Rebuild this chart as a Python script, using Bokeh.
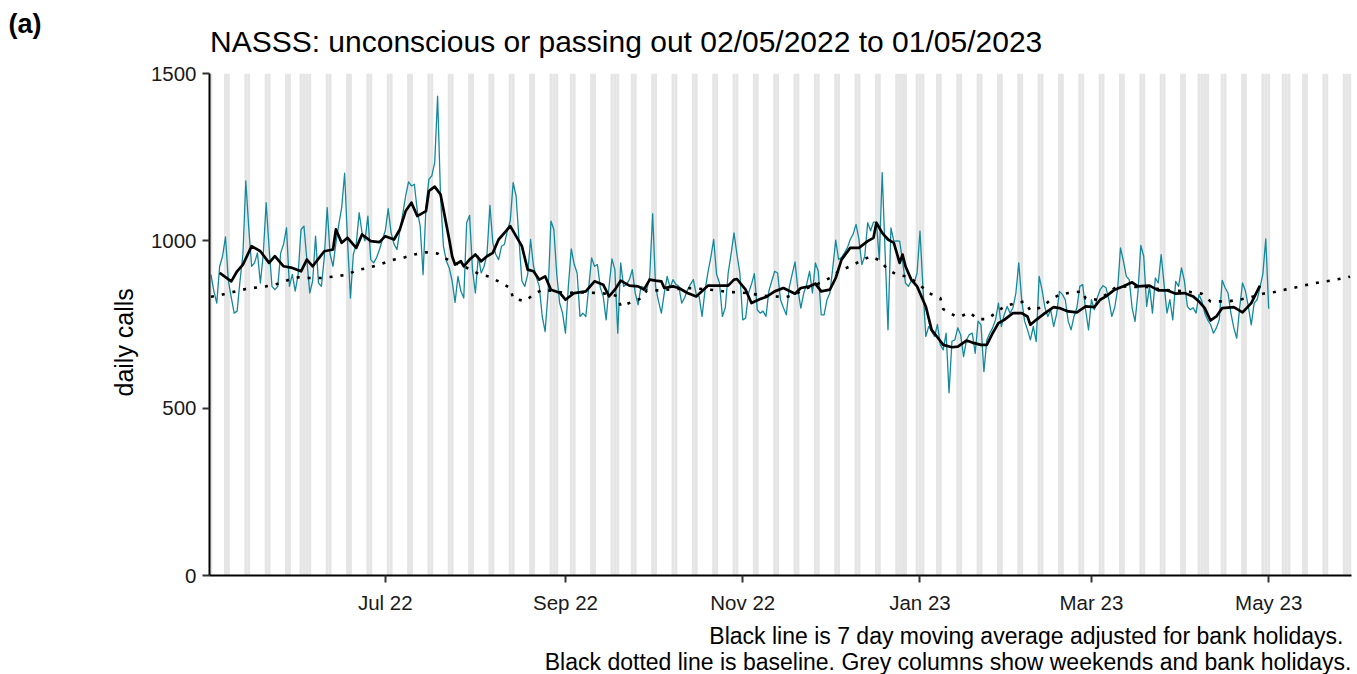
import math
import numpy as np
import pandas as pd
from bokeh.plotting import figure
from bokeh.layouts import column
from bokeh.models import Range1d, FixedTicker, Label, Title
from bokeh.embed import file_html
from bokeh.resources import INLINE

# ---------------- data ----------------
start_date = "2022-05-02"

daily_calls = [
    899, 850, 814, 924, 954, 1012, 880,
    830, 784, 790, 880, 960, 1179, 1040,
    924, 934, 964, 874, 960, 1114, 980,
    864, 854, 864, 964, 990, 1039, 864,
    900, 850, 900, 1034, 1044, 944, 844,
    880, 1014, 874, 864, 950, 1099, 960,
    924, 994, 1049, 1100, 1202, 1000, 829,
    960, 990, 1084, 1024, 1000, 1074, 944,
    934, 950, 974, 1004, 1030, 1096, 1024,
    990, 974, 1030, 1080, 1134, 1176, 1164,
    1169, 1090, 1044, 899, 1100, 1184, 1194,
    1234, 1432, 1134, 984, 940, 919, 880,
    816, 894, 850, 829, 1054, 1076, 914,
    844, 954, 904, 924, 960, 1106, 994,
    960, 944, 984, 990, 1030, 1060, 1174,
    1134, 1004, 880, 864, 900, 1004, 924,
    890, 864, 774, 729, 844, 1059, 1034,
    900, 814, 784, 724, 864, 976, 930,
    904, 774, 784, 774, 860, 949, 924,
    929, 860, 834, 764, 864, 946, 914,
    724, 934, 864, 870, 884, 914, 844,
    809, 864, 860, 854, 894, 1081, 864,
    820, 784, 844, 894, 860, 884, 870,
    864, 814, 830, 854, 870, 884, 840,
    834, 774, 850, 904, 950, 1004, 900,
    874, 774, 800, 904, 960, 1024, 960,
    904, 764, 769, 844, 870, 902, 794,
    784, 790, 774, 850, 880, 909, 904,
    824, 800, 779, 860, 900, 937, 854,
    799, 844, 870, 909, 844, 934, 909,
    779, 779, 824, 844, 920, 1002, 944,
    950, 964, 979, 1004, 1020, 1049, 1004,
    929, 954, 1054, 1030, 1056, 1056, 944,
    1204, 964, 734, 1039, 999, 1000, 999,
    940, 874, 864, 880, 874, 904, 1029,
    864, 714, 744, 730, 714, 750, 690,
    674, 724, 546, 700, 704, 740, 719,
    654, 704, 720, 724, 664, 760, 749,
    609, 704, 724, 740, 764, 814, 744,
    780, 804, 784, 800, 844, 934, 824,
    760, 734, 704, 744, 699, 894, 854,
    800, 774, 794, 744, 780, 849, 840,
    824, 760, 734, 774, 800, 864, 869,
    794, 734, 824, 794, 830, 854, 866,
    860, 824, 774, 800, 854, 979, 940,
    894, 884, 800, 759, 844, 986, 954,
    804, 864, 784, 889, 874, 959, 870,
    784, 824, 764, 879, 864, 919, 880,
    804, 794, 800, 784, 839, 820, 784,
    764, 750, 724, 740, 764, 882, 860,
    844, 784, 740, 709, 799, 874, 850,
    804, 749, 814, 824, 860, 901, 1006,
    797,
]

# 7 day moving average (day offset from start_date, value)
ma_day = [3, 7, 9, 11, 14, 17, 20, 22, 25, 28, 31, 33, 35, 39, 42, 43, 45, 47, 50, 52,
          55, 58, 60, 63, 65, 67, 69, 71, 74, 75, 77, 79, 80, 82, 83, 84, 86, 87, 89, 91,
          93, 95, 97, 99, 101, 103, 105, 107, 109, 111, 113, 115, 117, 120, 122, 125, 129,
          132, 135, 137, 139, 141, 144, 147, 149, 151, 153, 155, 156, 159, 161, 164, 167,
          171, 175, 178, 180, 181, 184, 186, 189, 191, 194, 197, 201, 203, 206, 208, 210,
          213, 215, 217, 220, 223, 226, 228, 229, 231, 233, 235, 237, 238, 239, 241, 243,
          246, 248, 250, 252, 255, 257, 260, 262, 265, 267, 269, 271, 273, 276, 279, 281,
          282, 284, 287, 290, 292, 295, 298, 301, 304, 306, 308, 311, 314, 317, 319, 323,
          326, 329, 332, 335, 338, 340, 342, 344, 346, 348, 352, 355, 358, 361]
ma_value = [904, 879, 909, 929, 984, 969, 934, 954, 924, 919, 909, 944, 924, 969, 974, 1034,
            994, 1009, 979, 1019, 999, 996, 1014, 1004, 1034, 1089, 1114, 1074, 1089, 1149,
            1162, 1139, 1094, 1004, 954, 929, 939, 924, 944, 959, 939, 954, 964, 1004, 1024,
            1044, 1014, 984, 914, 909, 884, 894, 854, 845, 824, 844, 849, 879, 869, 834, 854,
            881, 866, 864, 854, 884, 881, 879, 859, 864, 859, 844, 834, 866, 866, 866, 884,
            886, 854, 814, 826, 832, 849, 859, 842, 859, 864, 872, 849, 854, 889, 944, 979,
            979, 999, 1009, 1054, 1024, 1004, 994, 934, 959, 924, 884, 864, 804, 734, 712,
            689, 682, 684, 702, 696, 689, 689, 724, 754, 764, 784, 784, 774, 749, 764, 784,
            802, 799, 789, 786, 804, 802, 824, 834, 854, 864, 876, 864, 866, 852, 852, 842,
            844, 834, 819, 799, 762, 774, 799, 802, 786, 814, 866]

# baseline (day offset from start_date, value)
base_day = [0, 3, 7, 12, 16, 19, 23, 27, 30, 34, 38, 43, 47, 50, 54, 58, 62, 66, 70, 74,
            78, 81, 85, 89, 92, 96, 100, 103, 104, 108, 111, 114, 118, 122, 126, 130, 134,
            138, 140, 141, 145, 148, 150, 154, 158, 162, 166, 170, 174, 178, 182, 186, 190,
            194, 198, 201, 205, 209, 213, 216, 220, 224, 227, 230, 233, 236, 238, 240, 244,
            247, 251, 252, 256, 258, 261, 264, 267, 270, 273, 277, 280, 282, 286, 289, 292,
            295, 300, 301, 305, 308, 311, 315, 318, 322, 326, 330, 334, 338, 341, 344, 347,
            350, 355, 358, 362, 366, 370, 374, 378, 382, 386, 390, 392]
base_value = [833, 837, 846, 856, 861, 864, 872, 884, 891, 889, 889, 894, 899, 912, 919, 929,
              942, 949, 959, 966, 962, 946, 930, 916, 902, 892, 874, 859, 828, 820, 839, 854,
              850, 844, 846, 845, 844, 840, 834, 804, 818, 828, 852, 852, 855, 857, 859, 855,
              852, 847, 846, 842, 836, 834, 832, 840, 858, 872, 889, 909, 924, 942, 954, 942,
              914, 899, 896, 892, 868, 844, 829, 796, 776, 774, 786, 766, 766, 784, 804, 814,
              819, 792, 802, 824, 839, 844, 849, 828, 824, 839, 859, 864, 862, 862, 856, 852,
              850, 846, 842, 819, 819, 819, 826, 832, 842, 847, 855, 862, 870, 877, 882, 889,
              893]

bank_holidays = ["2022-05-02", "2022-06-02", "2022-06-03", "2022-08-29", "2022-09-19",
                 "2022-12-26", "2022-12-27", "2023-01-02", "2023-04-07", "2023-04-10",
                 "2023-05-01", "2023-05-08", "2023-05-29"]
shade_end = "2023-05-29"

tick_dates = ["2022-07-01", "2022-09-01", "2022-11-01", "2023-01-01", "2023-03-01", "2023-05-01"]
tick_labels = ["Jul 22", "Sep 22", "Nov 22", "Jan 23", "Mar 23", "May 23"]
y_ticks = [0, 500, 1000, 1500]

panel_tag = "(a)"
title_text = "NASSS: unconscious or passing out 02/05/2022 to 01/05/2023"
y_title = "daily calls"
caption_1 = "Black line is 7 day moving average adjusted for bank holidays."
caption_2 = "Black dotted line is baseline. Grey columns show weekends and bank holidays."

# ---------------- derived ----------------
t0 = pd.Timestamp(start_date)
def day_of(d):
    return (pd.Timestamp(d) - t0).days

x_days = np.arange(len(daily_calls))
all_dates = pd.date_range(start_date, shade_end, freq="D")
bh = set(pd.to_datetime(bank_holidays))
shade = np.array([(d - t0).days for d in all_dates if d.weekday() >= 5 or d in bh], dtype=float)
tick_x = [day_of(d) for d in tick_dates]

FONT = "Liberation Sans"
TEAL = "#14899c"
W = 1357
LEFT = 209


def blank(h):
    f = figure(width=W, height=h, output_backend="svg", toolbar_location=None,
               x_axis_type=None, y_axis_type=None, title=None,
               x_range=Range1d(0, 1), y_range=Range1d(0, 1),
               min_border_left=0, min_border_right=0, min_border_top=0, min_border_bottom=0)
    f.outline_line_color = None
    f.xgrid.grid_line_color = None
    f.ygrid.grid_line_color = None
    free = "frame_align" in f.properties()
    if free:
        f.frame_align = False
    return f, (0 if free else -LEFT)

# ---- header with panel tag and title ----
head, dx = blank(61)
head.add_layout(Label(x=8 + dx, y=37.5, x_units="screen", y_units="screen", text=panel_tag,
                      text_font=FONT, text_font_size="27px", text_font_style="bold",
                      text_color="black", text_align="left", text_baseline="alphabetic"))
head.add_layout(Label(x=209.5 + dx, y=20.5, x_units="screen", y_units="screen", text=title_text,
                      text_font=FONT, text_font_size="30px", text_color="black",
                      text_align="left", text_baseline="alphabetic"))

# ---- main plot ----
p = figure(width=W, height=559, output_backend="svg", toolbar_location=None,
           x_range=Range1d(-0.5, 392.5), y_range=Range1d(0, 1500), title=None,
           min_border_left=LEFT, min_border_right=6, min_border_top=12, min_border_bottom=45)

p.quad(left=shade - 0.5, right=shade + 0.5, bottom=0, top=1500,
       fill_color="#E5E5E5", line_color=None)
p.line(x_days, daily_calls, line_color=TEAL, line_width=1.3, line_join="round")
p.line(base_day, base_value, line_color="black", line_width=2.6, line_dash="3 8")
p.line(ma_day, ma_value, line_color="black", line_width=2.7, line_join="round")

p.xgrid.grid_line_color = None
p.ygrid.grid_line_color = None
p.outline_line_color = None

for ax in (p.xaxis[0], p.yaxis[0]):
    ax.axis_line_width = 2
    ax.axis_line_color = "black"
    ax.major_tick_line_width = 2
    ax.major_tick_line_color = "#333333"
    ax.major_tick_out = 7
    ax.major_tick_in = 0
    ax.minor_tick_out = 0
    ax.minor_tick_in = 0
    ax.major_label_text_font = FONT
    ax.major_label_text_font_size = "20.5px"
    ax.major_label_text_color = "#1a1a1a"
    ax.major_label_standoff = 6
p.xaxis.major_label_standoff = 8

p.xaxis.ticker = FixedTicker(ticks=tick_x)
p.xaxis.major_label_overrides = {tx: lab for tx, lab in zip(tick_x, tick_labels)}
p.yaxis.ticker = FixedTicker(ticks=y_ticks)

p.add_layout(Title(text=y_title, align="left", offset=179, standoff=19,
                   text_font=FONT, text_font_size="25px", text_font_style="normal",
                   text_color="black"), "left")

# ---- footer with captions ----
foot, dx = blank(54)
foot.add_layout(Label(x=1343 + dx, y=39, x_units="screen", y_units="screen", text=caption_1,
                      text_font=FONT, text_font_size="23px", text_color="black",
                      text_align="right", text_baseline="alphabetic"))
foot.add_layout(Label(x=1351 + dx, y=13, x_units="screen", y_units="screen", text=caption_2,
                      text_font=FONT, text_font_size="23px", text_color="black",
                      text_align="right", text_baseline="alphabetic"))

layout = column(head, p, foot, spacing=0)
open("out.html", "w").write(file_html(layout, INLINE))
